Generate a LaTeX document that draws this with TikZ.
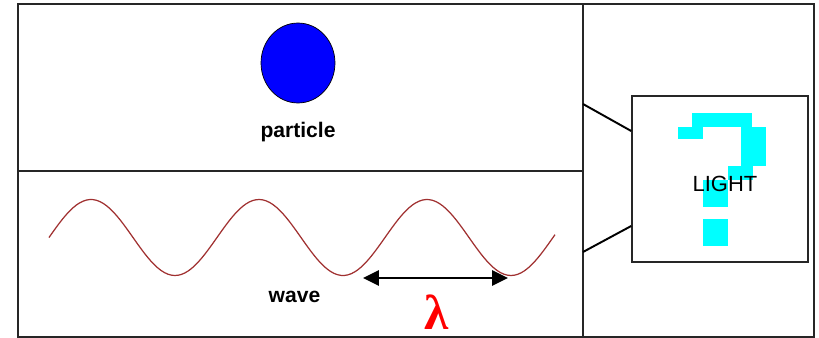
\documentclass[tikz,border=0pt]{standalone}
\usepackage{fontspec}
\setmainfont{Liberation Sans}
\newfontfamily\greekfont{Liberation Serif}
\usetikzlibrary{shapes.geometric, arrows.meta, positioning}
\definecolor{qcyan}{RGB}{0,255,255}
\definecolor{waveline}{RGB}{160,48,48}

\begin{document}
\begin{tikzpicture}[
        x=0.02cm, y=-0.02cm,
        frame/.style={draw=black!85, line width=1.1pt},
        txt/.style={font=\fontsize{12}{14}\selectfont\bfseries, inner sep=0pt, anchor=base},
        ball/.style={ellipse, draw=black, fill=blue, minimum width=1.48cm, minimum height=1.6cm, inner sep=0pt},
        qbox/.style={draw=black!85, line width=0.9pt, minimum width=3.52cm, minimum height=3.32cm, inner sep=0pt},
        pix/.style={fill=qcyan},
        >=Stealth
    ]
        \useasboundingbox (0,0) rectangle (819,338);

        % Panels
        \draw[frame] (18,4) rectangle (814,337);
        \draw[frame] (18,171) -- (583,171);
        \draw[frame] (583,4) -- (583,337);

        % Particle
        \node[ball] (ball) at (298,63) {};
        \node[txt] (particle) at (298,137) {particle};

        % Wave
        \draw[draw=waveline, line width=0.7pt]
            plot[domain=49:555, samples=150] (\x,{237.5-38*sin((\x-49)/168*360)});
        \coordinate (trA) at (363,278);
        \coordinate (trB) at (508,278);
        \draw[{Triangle[length=9pt,width=8.5pt]}-{Triangle[length=9pt,width=8.5pt]}, line width=1.5pt] (trA) -- (trB);
        \node[txt] (wave) at (294.5,302) {wave};
        \node[font=\greekfont\fontsize{28}{30}\selectfont\bfseries, text=red, inner sep=0pt] (lambda) at (437,312) {λ};

        % Light
        \node[qbox] (light) at (720,179) {};
        \fill[pix] (692,113) rectangle (752,127);
        \fill[pix] (678,127) rectangle (703,139);
        \fill[pix] (741,127) rectangle (766,166);
        \fill[pix] (728,166) rectangle (753,180);
        \fill[pix] (703,180) rectangle (728,207);
        \fill[pix] (703,219) rectangle (728,246);
        \node[txt, font=\fontsize{12.5}{14}\selectfont] (lighttext) at (725,191) {LIGHT};

        \coordinate (linkA) at (583,104);
        \coordinate (linkB) at (583,252);
        \draw[line width=1.1pt] (linkA) -- ([yshift=0.96cm]light.west);
        \draw[line width=1.1pt] (linkB) -- ([yshift=-0.94cm]light.west);
    \end{tikzpicture}
\end{document}
